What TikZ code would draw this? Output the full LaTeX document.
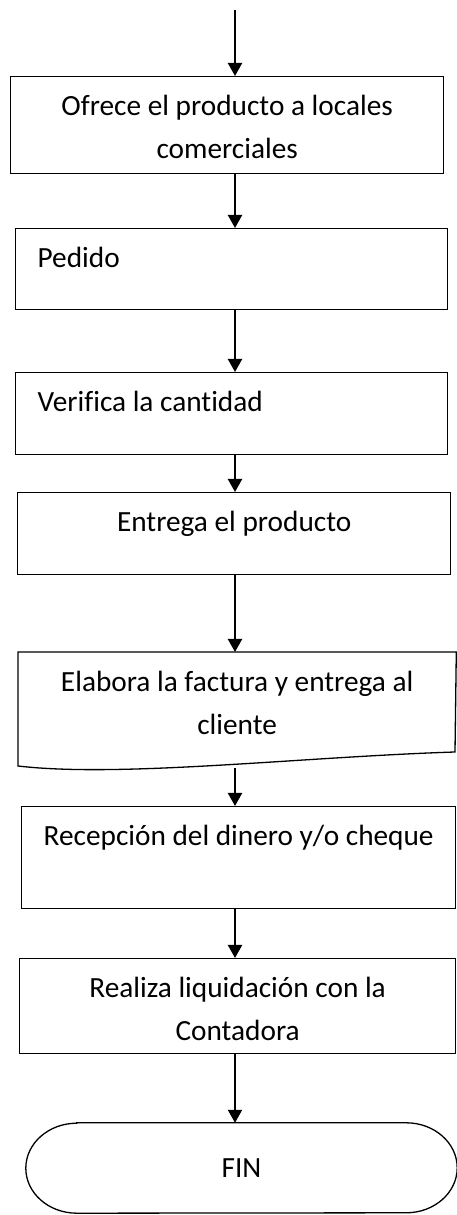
\documentclass[tikz,border=0pt]{standalone}
\usepackage{fontspec}
\setmainfont[Ligatures=CommonOff]{Carlito}
\usetikzlibrary{arrows.meta, calc}

% texto alineado arriba dentro de cada caja
\newcommand{\centrado}[3]{\parbox[c][#2][t]{#1}{\centering\rule{0pt}{39pt}#3}}
\newcommand{\izquierda}[3]{\parbox[c][#2][t]{#1}{\raggedright\hspace*{22pt}\rule{0pt}{39pt}#3}}

\begin{document}
\begin{tikzpicture}[x=1pt,y=1pt,>={Triangle[width=14pt,length=13pt]},
            caja/.style={draw,rectangle,inner sep=0pt,anchor=north west,line width=1.3pt},
            flecha/.style={->,line width=2.2pt},
            borde/.style={line width=1.3pt},
            every node/.style={font=\fontsize{29.3}{43}\selectfont}]

        \useasboundingbox (0,0) rectangle (456,1215);
        \coordinate (inicio) at (235,1205);

        \node[caja] (ofrece) at (10,1139) {\centrado{433pt}{97pt}{Ofrece el producto a locales\\comerciales}};
        \node[caja] (pedido) at (15,987) {\izquierda{432pt}{81pt}{Pedido}};
        \node[caja] (verifica) at (15,843) {\izquierda{432pt}{82pt}{Verifica la cantidad}};
        \node[caja] (entrega) at (17,723) {\centrado{433pt}{82pt}{Entrega el producto}};
        \node[caja,draw=none] (factura) at (18,563) {\centrado{437pt}{115pt}{Elabora la factura y entrega al\\cliente}};
        \node[caja] (recepcion) at (21,409) {\centrado{434pt}{102pt}{Recepción del dinero y/o cheque}};
        \node[caja] (liquida) at (19,257) {\centrado{436pt}{95pt}{Realiza liquidación con la\\Contadora}};
        \node[minimum width=431pt,minimum height=90pt,inner sep=0pt] (fin) at (241.5,47) {FIN};

        % documento con borde ondulado
        \draw[borde] (factura.north west) -- (factura.north east) -- (455,463)
            .. controls (300,458) and (120,437) .. (18,449) -- cycle;

        % terminal
        \draw[borde] ($(fin.north west)+(51,0)$) -- ($(fin.north east)+(-51,0)$)
            arc[start angle=90,end angle=-90,x radius=51,y radius=45]
            -- ($(fin.south west)+(51,0)$)
            arc[start angle=270,end angle=90,x radius=51,y radius=45] -- cycle;

        \draw[flecha] (inicio) -- (ofrece.north -| inicio);
        \draw[flecha] (ofrece.south -| inicio) -- (pedido.north -| inicio);
        \draw[flecha] (pedido.south -| inicio) -- (verifica.north -| inicio);
        \draw[flecha] (verifica.south -| inicio) -- (entrega.north -| inicio);
        \draw[flecha] (entrega.south -| inicio) -- (factura.north -| inicio);
        \draw[flecha] (factura.south -| inicio) -- (recepcion.north -| inicio);
        \draw[flecha] (recepcion.south -| inicio) -- (liquida.north -| inicio);
        \draw[flecha] (liquida.south -| inicio) -- (fin.north -| inicio);
    \end{tikzpicture}
\end{document}
